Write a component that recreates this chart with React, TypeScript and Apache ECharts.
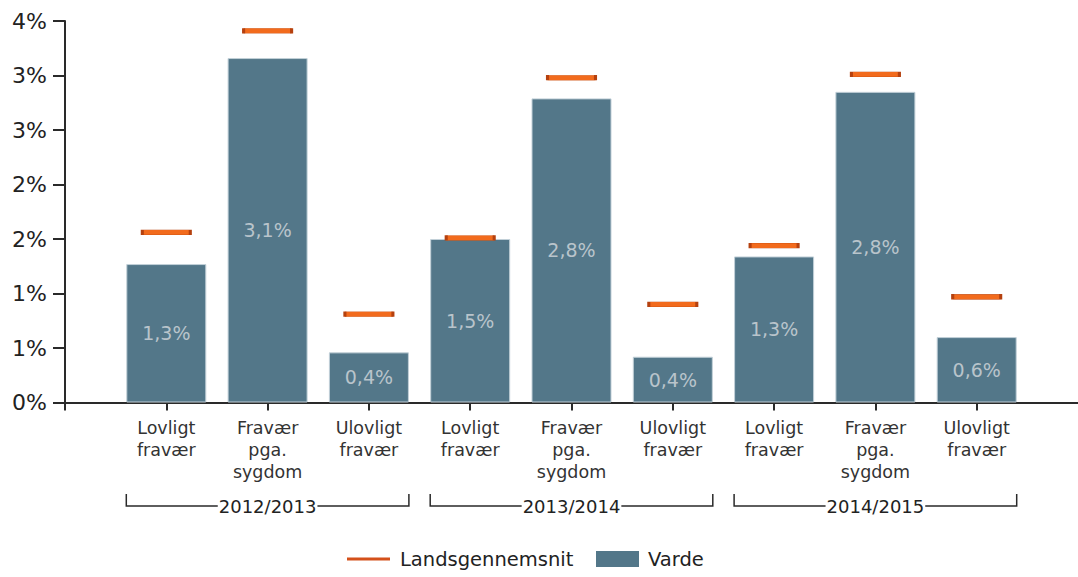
import React, { useEffect, useRef } from "react";
import * as echarts from "echarts";

const categories = [
  "Lovligt\nfravær",
  "Fravær\npga.\nsygdom",
  "Ulovligt\nfravær",
  "Lovligt\nfravær",
  "Fravær\npga.\nsygdom",
  "Ulovligt\nfravær",
  "Lovligt\nfravær",
  "Fravær\npga.\nsygdom",
  "Ulovligt\nfravær",
];
const vardeValues = [1.27, 3.16, 0.46, 1.5, 2.79, 0.42, 1.34, 2.85, 0.6];
const vardeLabels = ["1,3%", "3,1%", "0,4%", "1,5%", "2,8%", "0,4%", "1,3%", "2,8%", "0,6%"];
const landsValues = [1.56, 3.41, 0.81, 1.51, 2.98, 0.9, 1.44, 3.01, 0.97];
const groups = ["2012/2013", "2013/2014", "2014/2015"];
const groupSpans = [
  [1, 3],
  [4, 6],
  [7, 9],
];
const yTicks = [0, 0.5, 1, 1.5, 2, 2.5, 3, 3.5];

const FONT = "'DejaVu Sans', Verdana, sans-serif";
const BAR_W = 80;

export default function App() {
  const ref = useRef<HTMLDivElement>(null);
  useEffect(() => {
    if (!ref.current) return;
    const chart = echarts.init(ref.current, undefined, { renderer: "svg" });
    const option: any = {
      animation: false,
      backgroundColor: "#ffffff",
      grid: { left: 65, right: -3, top: 21, bottom: 174.5, containLabel: false },
      xAxis: {
        type: "value",
        min: 0,
        max: 10,
        interval: 1,
        splitLine: { show: false },
        axisLine: { show: true, onZero: false, lineStyle: { color: "#2a2a2a", width: 2 } },
        axisTick: { show: true, length: 8, lineStyle: { color: "#2a2a2a", width: 2 } },
        axisLabel: {
          show: true,
          margin: 14,
          fontFamily: FONT,
          fontSize: 17.5,
          lineHeight: 22,
          color: "#333",
          showMaxLabel: false,
          formatter: (v: number) => categories[v - 1] ?? "",
        },
      },
      yAxis: {
        type: "value",
        min: yTicks[0],
        max: yTicks[yTicks.length - 1],
        interval: 0.5,
        splitLine: { show: false },
        axisLine: { show: true, lineStyle: { color: "#2a2a2a", width: 2 } },
        axisTick: { show: true, length: 12, lineStyle: { color: "#2a2a2a", width: 2 } },
        axisLabel: {
          margin: 18,
          fontFamily: FONT,
          fontSize: 22,
          color: "#222",
          formatter: (v: number) => Math.round(v) + "%",
        },
      },
      legend: [
        {
          data: ["Landsgennemsnit"],
          left: 342,
          top: 544,
          itemWidth: 43,
          itemHeight: 3,
          icon: "rect",
          itemStyle: { color: "#d4501a", borderWidth: 0 },
          textStyle: { fontFamily: FONT, fontSize: 19.5, color: "#222", padding: [0, 0, 0, 5] },
        },
        {
          data: ["Varde"],
          left: 591,
          top: 544,
          itemWidth: 43,
          itemHeight: 16,
          icon: "rect",
          itemStyle: { color: "#537789", borderWidth: 0 },
          textStyle: { fontFamily: FONT, fontSize: 19.5, color: "#222", padding: [0, 0, 0, 4] },
        },
      ],
      series: [
        {
          name: "Varde",
          type: "bar",
          barWidth: BAR_W,
          data: vardeValues.map((v, i) => [i + 1, v]),
          itemStyle: { color: "#537789", borderColor: "#c2d0d8", borderWidth: 1 },
          label: {
            show: true,
            position: "inside",
            fontFamily: FONT,
            fontSize: 19,
            color: "#b9c4cb",
            formatter: (p: any) => vardeLabels[p.dataIndex],
          },
          z: 2,
        },
        {
          name: "Landsgennemsnit",
          type: "scatter",
          symbol: "rect",
          symbolSize: [48, 5],
          data: landsValues.map((v, i) => [i + 1, v]),
          itemStyle: { color: "#f26b1d", borderColor: "#b5410f", borderWidth: 1, opacity: 1 },
          z: 3,
        },
        {
          name: "groups",
          type: "custom",
          silent: true,
          clip: false,
          encode: { x: [0, 1], y: 2 },
          data: groupSpans.map((s, i) => [s[0], s[1], 0, i]),
          renderItem: (params: any, api: any) => {
            const s = api.value(0);
            const e = api.value(1);
            const gi = api.value(3);
            const p0 = api.coord([s, 0]);
            const p1 = api.coord([e, 0]);
            const x0 = p0[0] - BAR_W / 2;
            const x1 = p1[0] + BAR_W / 2;
            const y = p0[1] + 103.5;
            return {
              type: "group",
              children: [
                {
                  type: "polyline",
                  shape: {
                    points: [
                      [x0, y - 12],
                      [x0, y],
                      [x1, y],
                      [x1, y - 12],
                    ],
                  },
                  style: { stroke: "#2a2a2a", lineWidth: 1.5, fill: null },
                },
                {
                  type: "text",
                  x: (x0 + x1) / 2,
                  y: y,
                  style: {
                    text: groups[gi],
                    align: "center",
                    verticalAlign: "middle",
                    fontFamily: FONT,
                    fontSize: 18,
                    fill: "#222",
                    backgroundColor: "#fff",
                    padding: [0, 1],
                  },
                },
              ],
            };
          },
          z: 4,
        },
      ],
    };
    chart.setOption(option);
    return () => chart.dispose();
  }, []);
  return (
    <div
      ref={ref}
      style={{ position: "fixed", left: 0, top: 0, width: 1078, height: 577 }}
    />
  );
}
